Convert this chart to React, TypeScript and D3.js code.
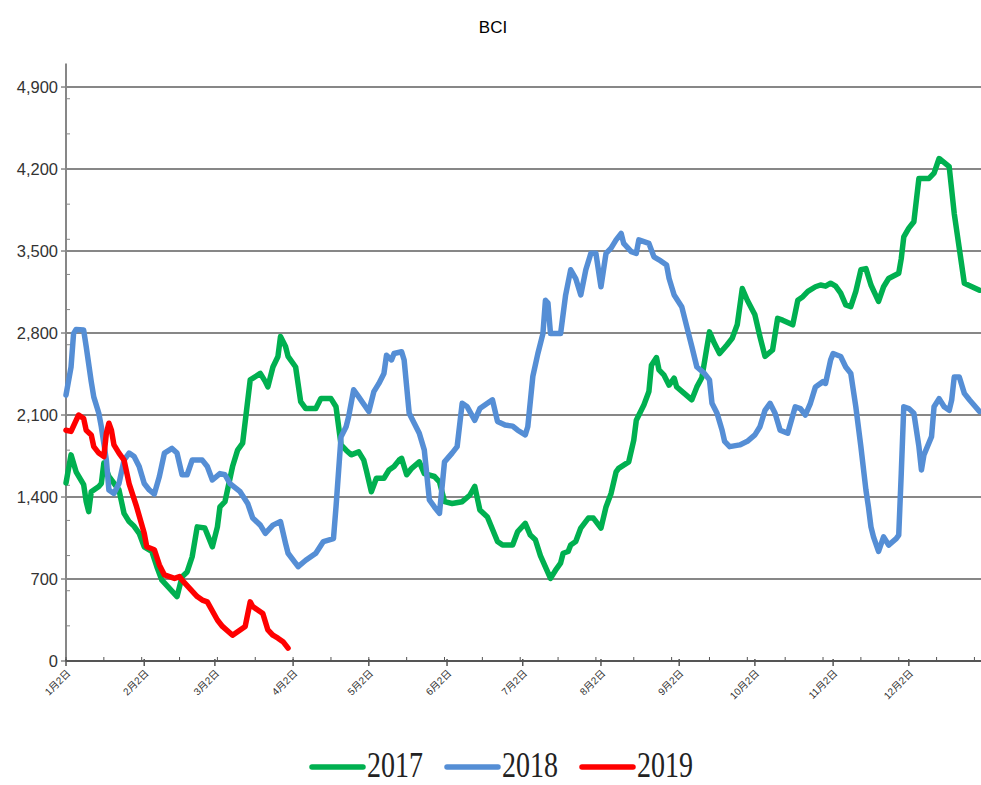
import { useEffect } from 'react'
import * as d3 from 'd3'

// BCI daily index, plotted on a shared Jan–Dec calendar (MM-DD, value)
const series2017: [string, number][] = [
  ['01-02', 1520], ['01-04', 1760], ['01-06', 1615], ['01-09', 1505], ['01-10', 1360], ['01-11', 1275],
  ['01-12', 1445], ['01-15', 1490], ['01-16', 1515], ['01-17', 1690], ['01-19', 1575], ['01-23', 1460],
  ['01-25', 1260], ['01-27', 1190], ['01-29', 1150], ['01-31', 1090], ['02-02', 975], ['02-05', 935],
  ['02-07', 805], ['02-09', 690], ['02-12', 620], ['02-15', 550], ['02-17', 720], ['02-19', 760],
  ['02-21', 890], ['02-23', 1145], ['02-26', 1135], ['03-01', 975], ['03-03', 1145], ['03-04', 1315],
  ['03-06', 1360], ['03-09', 1660], ['03-11', 1800], ['03-13', 1860], ['03-16', 2400], ['03-20', 2455],
  ['03-22', 2385], ['03-23', 2340], ['03-25', 2510], ['03-27', 2600], ['03-28', 2770], ['03-30', 2685],
  ['03-31', 2600], ['04-03', 2510], ['04-05', 2215], ['04-07', 2155], ['04-11', 2155], ['04-13', 2240],
  ['04-17', 2240], ['04-19', 2170], ['04-21', 1845], ['04-23', 1800], ['04-25', 1760], ['04-28', 1785],
  ['04-30', 1715], ['05-01', 1630], ['05-03', 1445], ['05-05', 1560], ['05-08', 1560], ['05-10', 1630],
  ['05-12', 1660], ['05-14', 1715], ['05-15', 1730], ['05-17', 1590], ['05-19', 1645], ['05-22', 1700],
  ['05-24', 1600], ['05-28', 1575], ['05-30', 1530], ['06-01', 1360], ['06-04', 1345], ['06-08', 1360],
  ['06-11', 1415], ['06-13', 1490], ['06-15', 1290], ['06-18', 1230], ['06-22', 1020], ['06-24', 990],
  ['06-28', 990], ['06-30', 1105], ['07-03', 1175], ['07-05', 1075], ['07-07', 1035], ['07-09', 900],
  ['07-13', 705], ['07-15', 775], ['07-17', 835], ['07-18', 920], ['07-20', 935], ['07-21', 990],
  ['07-23', 1020], ['07-25', 1135], ['07-28', 1220], ['07-30', 1220], ['08-02', 1135], ['08-04', 1315],
  ['08-06', 1430], ['08-08', 1615], ['08-09', 1645], ['08-13', 1700], ['08-15', 1885], ['08-16', 2055],
  ['08-19', 2185], ['08-21', 2300], ['08-22', 2525], ['08-24', 2590], ['08-25', 2485], ['08-27', 2440],
  ['08-29', 2355], ['08-31', 2415], ['09-01', 2340], ['09-04', 2285], ['09-07', 2230], ['09-09', 2340],
  ['09-11', 2420], ['09-14', 2810], ['09-16', 2710], ['09-18', 2625], ['09-21', 2700], ['09-23', 2755],
  ['09-25', 2870], ['09-27', 3180], ['09-29', 3080], ['10-02', 2955], ['10-04', 2770], ['10-06', 2600],
  ['10-09', 2655], ['10-11', 2925], ['10-13', 2910], ['10-17', 2870], ['10-19', 3080], ['10-21', 3110],
  ['10-23', 3155], ['10-26', 3195], ['10-28', 3210], ['10-30', 3200], ['11-01', 3225], ['11-03', 3200],
  ['11-05', 3140], ['11-07', 3040], ['11-09', 3025], ['11-11', 3155], ['11-13', 3340], ['11-15', 3350],
  ['11-17', 3210], ['11-20', 3070], ['11-22', 3195], ['11-24', 3265], ['11-28', 3310], ['11-29', 3435],
  ['11-30', 3620], ['12-02', 3695], ['12-04', 3750], ['12-06', 4120], ['12-10', 4120], ['12-12', 4165],
  ['12-14', 4290], ['12-18', 4220], ['12-20', 3820], ['12-24', 3225], ['12-30', 3165],
]

const series2018: [string, number][] = [
  ['01-02', 2270], ['01-04', 2510], ['01-05', 2795], ['01-06', 2830], ['01-09', 2825], ['01-10', 2685],
  ['01-12', 2385], ['01-13', 2255], ['01-15', 2115], ['01-16', 2000], ['01-18', 1715], ['01-19', 1460],
  ['01-21', 1430], ['01-23', 1515], ['01-25', 1715], ['01-27', 1775], ['01-29', 1745], ['01-31', 1660],
  ['02-02', 1515], ['02-04', 1460], ['02-06', 1425], ['02-08', 1575], ['02-10', 1775], ['02-13', 1815],
  ['02-15', 1775], ['02-17', 1590], ['02-19', 1590], ['02-21', 1715], ['02-25', 1715], ['02-27', 1660],
  ['03-01', 1545], ['03-04', 1600], ['03-06', 1590], ['03-08', 1515], ['03-12', 1445], ['03-15', 1345],
  ['03-17', 1220], ['03-20', 1160], ['03-22', 1090], ['03-25', 1160], ['03-28', 1190], ['03-30', 1005],
  ['03-31', 920], ['04-04', 805], ['04-07', 860], ['04-11', 920], ['04-14', 1020], ['04-18', 1045],
  ['04-19', 1315], ['04-21', 1915], ['04-23', 2000], ['04-24', 2085], ['04-26', 2315], ['04-28', 2255],
  ['05-02', 2130], ['05-04', 2300], ['05-06', 2370], ['05-08', 2455], ['05-09', 2610], ['05-11', 2570],
  ['05-12', 2625], ['05-15', 2640], ['05-16', 2570], ['05-18', 2115], ['05-20', 2030], ['05-22', 1945],
  ['05-24', 1800], ['05-26', 1375], ['05-28', 1315], ['05-30', 1260], ['06-01', 1700], ['06-04', 1775],
  ['06-06', 1830], ['06-08', 2200], ['06-10', 2170], ['06-13', 2055], ['06-15', 2155], ['06-18', 2200],
  ['06-20', 2230], ['06-22', 2045], ['06-25', 2015], ['06-28', 2005], ['06-30', 1970], ['07-03', 1930],
  ['07-04', 2000], ['07-06', 2430], ['07-08', 2625], ['07-10', 2795], ['07-11', 3080], ['07-12', 3055],
  ['07-13', 2795], ['07-17', 2795], ['07-19', 3125], ['07-21', 3340], ['07-23', 3265], ['07-25', 3125],
  ['07-27', 3340], ['07-29', 3480], ['07-31', 3480], ['08-02', 3195], ['08-04', 3480], ['08-06', 3525],
  ['08-08', 3595], ['08-10', 3650], ['08-11', 3565], ['08-14', 3495], ['08-16', 3480], ['08-17', 3595],
  ['08-21', 3565], ['08-23', 3450], ['08-25', 3425], ['08-28', 3380], ['08-29', 3265], ['08-31', 3125],
  ['09-03', 3025], ['09-05', 2855], ['09-07', 2685], ['09-09', 2510], ['09-12', 2455], ['09-14', 2400],
  ['09-15', 2200], ['09-17', 2115], ['09-19', 1970], ['09-20', 1875], ['09-22', 1830], ['09-26', 1845],
  ['09-29', 1875], ['10-02', 1930], ['10-04', 2000], ['10-06', 2140], ['10-08', 2200], ['10-10', 2115],
  ['10-12', 1970], ['10-15', 1945], ['10-18', 2170], ['10-20', 2155], ['10-22', 2100], ['10-24', 2200],
  ['10-26', 2340], ['10-29', 2385], ['10-30', 2370], ['11-01', 2570], ['11-02', 2625], ['11-05', 2600],
  ['11-07', 2510], ['11-09', 2455], ['11-11', 2170], ['11-13', 1830], ['11-15', 1460], ['11-16', 1315],
  ['11-17', 1145], ['11-18', 1060], ['11-20', 935], ['11-22', 1060], ['11-24', 990], ['11-27', 1045],
  ['11-28', 1075], ['11-29', 1600], ['11-30', 2170], ['12-02', 2155], ['12-04', 2115], ['12-06', 1830],
  ['12-07', 1630], ['12-08', 1760], ['12-11', 1915], ['12-12', 2170], ['12-14', 2240], ['12-16', 2170],
  ['12-18', 2140], ['12-19', 2230], ['12-20', 2425], ['12-22', 2425], ['12-24', 2285], ['12-26', 2230],
  ['12-30', 2130],
]

const series2019: [string, number][] = [
  ['01-02', 1970], ['01-04', 1960], ['01-06', 2055], ['01-07', 2100], ['01-09', 2070], ['01-10', 1970],
  ['01-12', 1930], ['01-13', 1830], ['01-15', 1775], ['01-17', 1745], ['01-18', 1945], ['01-19', 2030],
  ['01-20', 1970], ['01-21', 1845], ['01-23', 1775], ['01-25', 1715], ['01-27', 1515], ['01-30', 1315],
  ['02-02', 1090], ['02-03', 975], ['02-06', 950], ['02-08', 820], ['02-10', 735], ['02-14', 705],
  ['02-16', 720], ['02-17', 690], ['02-20', 620], ['02-23', 550], ['02-25', 520], ['02-27', 505],
  ['03-03', 350], ['03-05', 295], ['03-09', 220], ['03-12', 265], ['03-14', 295], ['03-16', 505],
  ['03-17', 465], ['03-21', 405], ['03-23', 265], ['03-25', 220], ['03-27', 195], ['03-29', 165],
  ['03-31', 110],
]

const legendItems = [
  { label: '2017', color: '#00B050', data: series2017 },
  { label: '2018', color: '#558ED5', data: series2018 },
  { label: '2019', color: '#FF0000', data: series2019 },
]

const yTicks = [0, 700, 1400, 2100, 2800, 3500, 4200, 4900]
const monthTickLabels = ['1月2日', '2月2日', '3月2日', '4月2日', '5月2日', '6月2日', '7月2日', '8月2日', '9月2日', '10月2日', '11月2日', '12月2日']

const parseMD = (md: string) => {
  const [m, d] = md.split('-').map(Number)
  return new Date(Date.UTC(2017, m - 1, d))
}

const sansFont = '"Liberation Sans", Arial, "Noto Sans CJK SC", sans-serif'

export default function App() {
  useEffect(() => {
    document.body.style.margin = '0'
  }, [])

  const width = 981
  const height = 785

  const x = d3
    .scaleUtc()
    .domain([new Date(Date.UTC(2017, 0, 2)), new Date(Date.UTC(2017, 11, 31))])
    .range([66, 982])
  const y = d3.scaleLinear().domain([0, 5100]).range([661, 63.6])

  const line = d3
    .line<[string, number]>()
    .x((d) => x(parseMD(d[0])))
    .y((d) => y(d[1]))

  const majorDates = monthTickLabels.map((_, i) => new Date(Date.UTC(2017, i, 2)))
  const minorDates = d3.range(0, 364, 15).map((d) => new Date(Date.UTC(2017, 0, 2 + d)))
  const minorY = d3.range(300, 5100, 300)

  const legendX = d3.scaleLinear().domain([0, 1]).range([312, 447])

  return (
    <svg width={width} height={height} style={{ display: 'block', background: '#fff' }}>
      <text x={493} y={33} textAnchor="middle" fontSize={17} fontFamily={sansFont} fill="#000">
        BCI
      </text>

      {/* grid */}
      {yTicks.slice(1).map((t) => (
        <line key={t} x1={66} x2={981} y1={y(t)} y2={y(t)} stroke="#878787" strokeWidth={2} />
      ))}

      {/* y axis */}
      <line x1={66} x2={66} y1={y(5100)} y2={y(0)} stroke="#878787" strokeWidth={2} />
      {yTicks.map((t) => (
        <g key={t}>
          <line x1={61} x2={66} y1={y(t)} y2={y(t)} stroke="#878787" strokeWidth={1.5} />
          <text x={58} y={y(t) + 6} textAnchor="end" fontSize={16.5} fontFamily={sansFont} fill="#333">
            {d3.format(',')(t)}
          </text>
        </g>
      ))}
      {minorY.map((t) => (
        <line key={t} x1={66} x2={70} y1={y(t)} y2={y(t)} stroke="#878787" strokeWidth={1} />
      ))}

      {/* series */}
      {legendItems.map((s) => (
        <path
          key={s.label}
          d={line(s.data) || ''}
          fill="none"
          stroke={s.color}
          strokeWidth={5.5}
          strokeLinejoin="round"
          strokeLinecap="round"
        />
      ))}

      {/* x axis */}
      <line x1={66} x2={981} y1={661} y2={661} stroke="#555" strokeWidth={2} />
      {minorDates.map((d) => (
        <line key={+d} x1={x(d)} x2={x(d)} y1={657} y2={661} stroke="#555" strokeWidth={1} />
      ))}
      {majorDates.map((d, i) => (
        <g key={+d}>
          <line x1={x(d)} x2={x(d)} y1={659} y2={666} stroke="#555" strokeWidth={1.5} />
          <text
            transform={`translate(${x(d) + 5},${674}) rotate(-45)`}
            textAnchor="end"
            fontSize={10}
            fontFamily={sansFont}
            fill="#333"
          >
            {monthTickLabels[i]}
          </text>
        </g>
      ))}

      {/* legend */}
      {legendItems.map((s, i) => (
        <g key={s.label} transform={`translate(${legendX(i)},0)`}>
          <line x1={0} x2={51} y1={767} y2={767} stroke={s.color} strokeWidth={5.5} strokeLinecap="round" />
          <text
            x={55}
            y={777}
            fontSize={35}
            fontFamily='"Liberation Serif", "Times New Roman", serif'
            fill="#222"
            textLength={56}
            lengthAdjust="spacingAndGlyphs"
          >
            {s.label}
          </text>
        </g>
      ))}
    </svg>
  )
}
